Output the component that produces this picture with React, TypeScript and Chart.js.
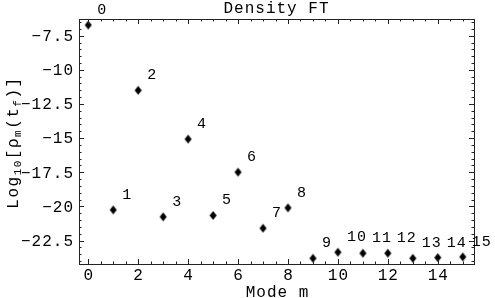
import React, { useEffect, useRef } from "react";
import { Chart, registerables } from "chart.js";

Chart.register(...registerables);

const modes = [0, 1, 2, 3, 4, 5, 6, 7, 8, 9, 10, 11, 12, 13, 14, 15];
const logDensity = [
  -6.72, -20.25, -11.5, -20.76, -15.07, -20.66, -17.49, -21.59, -20.1,
  -23.79, -23.35, -23.42, -23.42, -23.79, -23.74, -23.69,
];
const pointLabels = ["0", "1", "2", "3", "4", "5", "6", "7", "8", "9", "10", "11", "12", "13", "14", "15"];
const xTicks = [0, 2, 4, 6, 8, 10, 12, 14];
const yTicks = [-7.5, -10, -12.5, -15, -17.5, -20, -22.5];
const xRange = [-0.37, 15.45];
const yRange = [-24.21, -6.28];
const titleText = "Density FT";
const xTitle = "Mode m";

const FONT = '"Liberation Mono", "DejaVu Sans Mono", monospace';

function fmt(v: number) {
  const s = String(Math.abs(v));
  return (v < 0 ? "\u2212" : "") + s;
}

function makeDiamond() {
  const c = document.createElement("canvas");
  c.width = 9;
  c.height = 11;
  const g = c.getContext("2d")!;
  g.fillStyle = "#000";
  g.beginPath();
  g.moveTo(4.5, 1);
  g.lineTo(8, 5.5);
  g.lineTo(4.5, 10);
  g.lineTo(1, 5.5);
  g.closePath();
  g.fill();
  return c;
}

const framePlugin = {
  id: "mmaFrame",
  afterDraw(chart: any) {
    const ctx = chart.ctx as CanvasRenderingContext2D;
    const { left, right, top, bottom } = chart.chartArea;
    const xs = chart.scales.x;
    const ys = chart.scales.y;
    ctx.save();
    ctx.strokeStyle = "#222";
    ctx.lineWidth = 1;
    ctx.strokeRect(Math.round(left) + 0.5, Math.round(top) + 0.5, Math.round(right - left), Math.round(bottom - top));

    const major = 5;
    const minor = 2.5;
    ctx.beginPath();
    // x ticks (bottom & top), minor every 0.5
    for (let v = Math.ceil(xRange[0] * 2) / 2; v <= xRange[1]; v += 0.5) {
      const px = Math.round(xs.getPixelForValue(v)) + 0.5;
      const len = xTicks.includes(v) ? major : minor;
      ctx.moveTo(px, bottom);
      ctx.lineTo(px, bottom - len);
      ctx.moveTo(px, top);
      ctx.lineTo(px, top + len);
    }
    for (let v = Math.ceil(yRange[0] * 2) / 2; v <= yRange[1]; v += 0.5) {
      const py = Math.round(ys.getPixelForValue(v)) + 0.5;
      const len = yTicks.includes(v) ? major : minor;
      ctx.moveTo(left, py);
      ctx.lineTo(left + len, py);
      ctx.moveTo(right, py);
      ctx.lineTo(right - len, py);
    }
    ctx.stroke();

    ctx.fillStyle = "#000";
    (ctx as any).letterSpacing = "1px";
    ctx.font = `16px ${FONT}`;
    // y tick labels
    ctx.textAlign = "right";
    ctx.textBaseline = "middle";
    yTicks.forEach((v) => {
      ctx.fillText(fmt(v), left - 5, ys.getPixelForValue(v) + 1);
    });
    // x tick labels
    ctx.textAlign = "center";
    xTicks.forEach((v) => {
      ctx.fillText(fmt(v), xs.getPixelForValue(v) + 0.5, bottom + 12);
    });

    // title
    ctx.fillText(titleText, (left + right) / 2, 9);
    // x title
    ctx.fillText(xTitle, (left + right) / 2 + 1, 293);

    // point labels
    ctx.font = `15px ${FONT}`;
    ctx.textAlign = "left";
    modes.forEach((m, i) => {
      const px = xs.getPixelForValue(m);
      const py = ys.getPixelForValue(logDensity[i]);
      ctx.fillText(pointLabels[i], px + 9, py - 15);
    });

    // y title with subscripts
    const parts: [string, boolean][] = [
      ["Log", false], ["10", true], ["[", false], ["\u03C1", false], ["m", true],
      ["(", false], ["t", false], ["f", true], [")", false], ["]", false],
    ];
    const bigFont = `16px ${FONT}`;
    const subFont = `11px ${FONT}`;
    (ctx as any).letterSpacing = "1.5px";
    let total = 0;
    parts.forEach(([t, sub]) => {
      ctx.font = sub ? subFont : bigFont;
      total += ctx.measureText(t).width;
    });
    ctx.translate(13, (top + bottom) / 2 + 1);
    ctx.rotate(-Math.PI / 2);
    ctx.textAlign = "left";
    ctx.textBaseline = "alphabetic";
    let x = -total / 2;
    parts.forEach(([t, sub]) => {
      ctx.font = sub ? subFont : bigFont;
      ctx.fillText(t, x, sub ? 8 : 5);
      x += ctx.measureText(t).width;
    });
    ctx.restore();
  },
};

export default function App() {
  const ref = useRef<HTMLCanvasElement | null>(null);
  useEffect(() => {
    document.body.style.margin = "0";
    const canvas = ref.current!;
    const diamond = makeDiamond();
    const chart = new Chart(canvas, {
      type: "scatter",
      data: {
        datasets: [
          {
            data: modes.map((m, i) => ({ x: m, y: logDensity[i] })),
            pointStyle: diamond as any,
            backgroundColor: "#000",
            borderColor: "#000",
            clip: false as any,
          },
        ],
      },
      options: {
        responsive: false,
        animation: false,
        devicePixelRatio: 1,
        layout: { padding: { left: 79, right: 21, top: 19, bottom: 34 } },
        plugins: { legend: { display: false }, tooltip: { enabled: false }, title: { display: false } },
        scales: {
          x: { type: "linear", min: xRange[0], max: xRange[1], display: false },
          y: { type: "linear", min: yRange[0], max: yRange[1], display: false },
        },
      },
      plugins: [framePlugin],
    });
    return () => chart.destroy();
  }, []);
  return (
    <div style={{ width: 495, height: 298, background: "#fff" }}>
      <canvas ref={ref} width={495} height={298} />
    </div>
  );
}
